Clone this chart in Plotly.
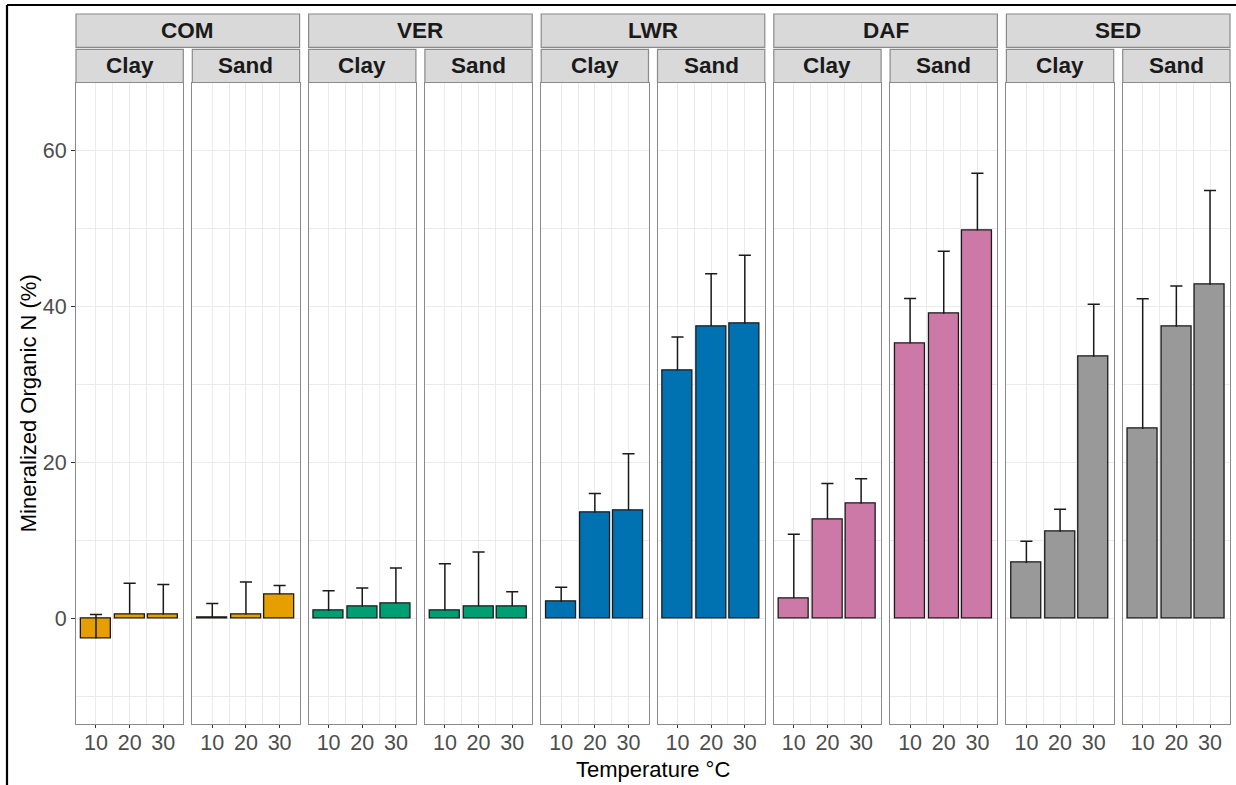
import plotly.graph_objects as go

# Soil amendments (facet columns), soil textures (sub-facets) and incubation temperatures
soils = ["COM", "VER", "LWR", "DAF", "SED"]
textures = ["Clay", "Sand"]
temps = [10, 20, 30]
soil_colors = ["#E69F00", "#009E73", "#0072B2", "#CC79A7", "#999999"]

# Mean mineralized organic N (%) per soil/texture panel at 10, 20, 30 °C
mean_com_clay = [-2.6, 0.55, 0.45]
mean_com_sand = [0.15, 0.5, 3.1]
mean_ver_clay = [0.95, 1.5, 1.9]
mean_ver_sand = [1.0, 1.55, 1.55]
mean_lwr_clay = [2.1, 13.55, 13.85]
mean_lwr_sand = [31.8, 37.5, 37.8]
mean_daf_clay = [2.6, 12.7, 14.7]
mean_daf_sand = [35.3, 39.05, 49.75]
mean_sed_clay = [7.1, 11.1, 33.55]
mean_sed_sand = [24.3, 37.4, 42.8]

# Standard deviations (upper error bars)
sd_com_clay = [3.1, 3.95, 3.9]
sd_com_sand = [1.75, 4.15, 1.1]
sd_ver_clay = [2.6, 2.4, 4.55]
sd_ver_sand = [6.0, 6.95, 1.85]
sd_lwr_clay = [1.9, 2.45, 7.25]
sd_lwr_sand = [4.3, 6.7, 8.8]
sd_daf_clay = [8.2, 4.6, 3.2]
sd_daf_sand = [5.75, 8.05, 7.35]
sd_sed_clay = [2.8, 2.9, 6.75]
sd_sed_sand = [16.7, 5.25, 12.1]

panel_means = [mean_com_clay, mean_com_sand, mean_ver_clay, mean_ver_sand,
               mean_lwr_clay, mean_lwr_sand, mean_daf_clay, mean_daf_sand,
               mean_sed_clay, mean_sed_sand]
panel_sds = [sd_com_clay, sd_com_sand, sd_ver_clay, sd_ver_sand,
             sd_lwr_clay, sd_lwr_sand, sd_daf_clay, sd_daf_sand,
             sd_sed_clay, sd_sed_sand]

W, H = 1236, 785
LEFT0, PITCH, PW = 76.0, 116.3, 107.3
PANEL_TOP, PANEL_BOT = 82.5, 724.0
STRIP1 = (14.0, 47.3)
STRIP2 = (49.3, 82.5)
X_RANGE = [4.06, 35.94]
BAR_W = 9.0        # bar width in temperature units
CAP_HALF = 1.8     # half width of the error-bar cap in temperature units

FONT = "Liberation Sans, Arial, Helvetica, sans-serif"
GRID = "#EBEBEB"
BORDER = "#8A8A8A"
TICK_SIZE = 21.5
STRIP_SIZE = 22.5


def px_x(v):
    return v / W


def px_y(v):
    return 1 - v / H


fig = go.Figure()
layout = dict(
    width=W, height=H, autosize=False,
    margin=dict(l=0, r=0, t=0, b=0),
    paper_bgcolor="white", plot_bgcolor="white",
    font=dict(family=FONT, color="#4D4D4D"),
    showlegend=False, bargap=0,
)

shapes = []
annotations = []

for k in range(10):
    s, t = divmod(k, 2)
    suffix = "" if k == 0 else str(k + 1)
    means, sds = panel_means[k], panel_sds[k]
    fig.add_trace(go.Bar(
        x=temps, y=means, width=BAR_W,
        marker=dict(color=soil_colors[s], line=dict(color="#1A1A1A", width=1.3)),
        xaxis="x" + suffix, yaxis="y" + suffix,
        hovertemplate="%{x} °C: %{y}<extra></extra>",
    ))

    # upper error bars: stem from the mean to mean + sd, capped at the top
    ex, ey = [], []
    for tv, m, sd in zip(temps, means, sds):
        top = m + sd
        ex += [tv, tv, None, tv - CAP_HALF, tv + CAP_HALF, None]
        ey += [m, top, None, top, top, None]
    fig.add_trace(go.Scatter(
        x=ex, y=ey, mode="lines", line=dict(color="#1A1A1A", width=1.5),
        xaxis="x" + suffix, yaxis="y" + suffix, hoverinfo="skip",
    ))

    x0 = LEFT0 + k * PITCH
    x1 = x0 + PW
    layout["xaxis" + suffix] = dict(
        domain=[px_x(x0), px_x(x1)], anchor="y" + suffix,
        range=X_RANGE, tickvals=temps, ticktext=[str(v) for v in temps],
        ticks="outside", ticklen=3, tickwidth=1, tickcolor="#333333",
        ticklabelstandoff=-4,
        tickfont=dict(size=TICK_SIZE, color="#4D4D4D", family=FONT),
        showgrid=True, gridcolor=GRID, gridwidth=1.1,
        minor=dict(tickmode="array", tickvals=[15, 25], showgrid=True,
                   gridcolor=GRID, gridwidth=0.6, ticks=""),
        showline=True, mirror=True, linecolor=BORDER, linewidth=1.2,
        zeroline=False, fixedrange=True,
    )
    layout["yaxis" + suffix] = dict(
        domain=[px_y(PANEL_BOT), px_y(PANEL_TOP)], anchor="x" + suffix,
        range=[-13.56, 68.75], tickvals=[0, 20, 40, 60],
        showticklabels=(k == 0), ticks="outside" if k == 0 else "",
        ticklen=4, tickwidth=1, tickcolor="#333333",
        tickfont=dict(size=TICK_SIZE, color="#4D4D4D", family=FONT),
        showgrid=True, gridcolor=GRID, gridwidth=1.1,
        minor=dict(tickmode="array", tickvals=[-10, 10, 30, 50], showgrid=True,
                   gridcolor=GRID, gridwidth=0.6, ticks=""),
        showline=True, mirror=True, linecolor=BORDER, linewidth=1.2,
        zeroline=False, fixedrange=True,
    )

    # texture strip
    shapes.append(dict(type="rect", xref="paper", yref="paper",
                       x0=px_x(x0), x1=px_x(x1), y0=px_y(STRIP2[1]), y1=px_y(STRIP2[0]),
                       fillcolor="#D9D9D9", line=dict(color=BORDER, width=1.2), layer="above"))
    annotations.append(dict(xref="paper", yref="paper", x=px_x((x0 + x1) / 2),
                            y=px_y((STRIP2[0] + STRIP2[1]) / 2), text="<b>%s</b>" % textures[t],
                            showarrow=False, xanchor="center", yanchor="middle",
                            font=dict(size=STRIP_SIZE, color="#1A1A1A", family=FONT)))

    # soil strip spanning both textures
    if t == 0:
        g1 = x0 + PITCH + PW
        shapes.append(dict(type="rect", xref="paper", yref="paper",
                           x0=px_x(x0), x1=px_x(g1), y0=px_y(STRIP1[1]), y1=px_y(STRIP1[0]),
                           fillcolor="#D9D9D9", line=dict(color=BORDER, width=1.2), layer="above"))
        annotations.append(dict(xref="paper", yref="paper", x=px_x((x0 + g1) / 2),
                                y=px_y((STRIP1[0] + STRIP1[1]) / 2), text="<b>%s</b>" % soils[s],
                                showarrow=False, xanchor="center", yanchor="middle",
                                font=dict(size=STRIP_SIZE, color="#1A1A1A", family=FONT)))

# outer frame lines (top and left)
shapes.append(dict(type="line", xref="paper", yref="paper", x0=px_x(7), x1=1,
                   y0=px_y(5), y1=px_y(5), line=dict(color="black", width=2.2)))
shapes.append(dict(type="line", xref="paper", yref="paper", x0=px_x(7), x1=px_x(7),
                   y0=px_y(5), y1=0, line=dict(color="black", width=2.2)))

# axis titles
annotations.append(dict(xref="paper", yref="paper", x=px_x((LEFT0 + LEFT0 + 9 * PITCH + PW) / 2),
                        y=px_y(769.5), text="Temperature °C", showarrow=False,
                        xanchor="center", yanchor="middle",
                        font=dict(size=22, color="black", family=FONT)))
annotations.append(dict(xref="paper", yref="paper", x=px_x(28),
                        y=px_y((PANEL_TOP + PANEL_BOT) / 2), text="Mineralized Organic N (%)",
                        showarrow=False, textangle=-90, xanchor="center", yanchor="middle",
                        font=dict(size=22, color="black", family=FONT)))

layout["shapes"] = shapes
layout["annotations"] = annotations
fig.update_layout(**layout)

fig.write_html("out.html")
